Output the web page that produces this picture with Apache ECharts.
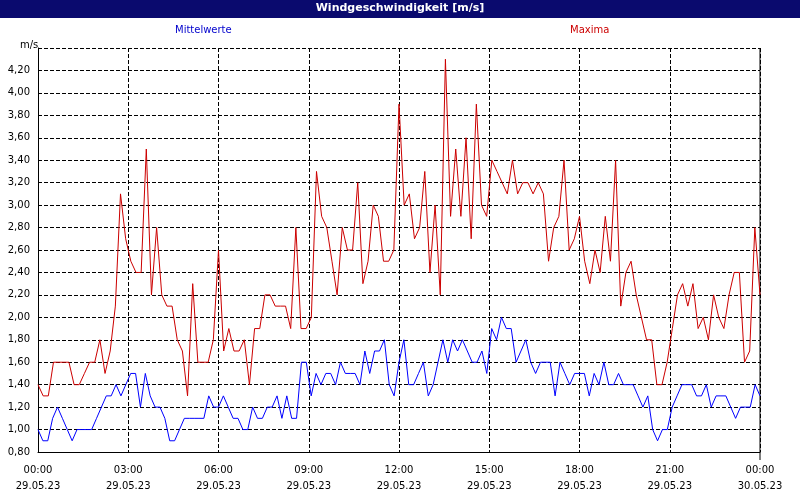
<!DOCTYPE html><html><head><meta charset="utf-8"><script src="https://cdn.jsdelivr.net/npm/echarts@6/dist/echarts.min.js"></script>
<style>body{margin:0;background:#fff}#c{width:800px;height:500px}</style></head><body><div id="c"></div><script>
const mittelwerte=[1.0,0.9,0.9,1.1,1.2,1.1,1.0,0.9,1.0,1.0,1.0,1.0,1.1,1.2,1.3,1.3,1.4,1.3,1.4,1.5,1.5,1.2,1.5,1.3,1.2,1.2,1.1,0.9,0.9,1.0,1.1,1.1,1.1,1.1,1.1,1.3,1.2,1.2,1.3,1.2,1.1,1.1,1.0,1.0,1.2,1.1,1.1,1.2,1.2,1.3,1.1,1.3,1.1,1.1,1.6,1.6,1.3,1.5,1.4,1.5,1.5,1.4,1.6,1.5,1.5,1.5,1.4,1.7,1.5,1.7,1.7,1.8,1.4,1.3,1.6,1.8,1.4,1.4,1.5,1.6,1.3,1.4,1.6,1.8,1.6,1.8,1.7,1.8,1.7,1.6,1.6,1.7,1.5,1.9,1.8,2.0,1.9,1.9,1.6,1.7,1.8,1.6,1.5,1.6,1.6,1.6,1.3,1.6,1.5,1.4,1.5,1.5,1.5,1.3,1.5,1.4,1.6,1.4,1.4,1.5,1.4,1.4,1.4,1.3,1.2,1.3,1.0,0.9,1.0,1.0,1.2,1.3,1.4,1.4,1.4,1.3,1.3,1.4,1.2,1.3,1.3,1.3,1.2,1.1,1.2,1.2,1.2,1.4,1.3];
const maxima=[1.4,1.3,1.3,1.6,1.6,1.6,1.6,1.4,1.4,1.5,1.6,1.6,1.8,1.5,1.7,2.1,3.1,2.7,2.5,2.4,2.4,3.5,2.2,2.8,2.2,2.1,2.1,1.8,1.7,1.3,2.3,1.6,1.6,1.6,1.8,2.6,1.7,1.9,1.7,1.7,1.8,1.4,1.9,1.9,2.2,2.2,2.1,2.1,2.1,1.9,2.8,1.9,1.9,2.0,3.3,2.9,2.8,2.5,2.2,2.8,2.6,2.6,3.2,2.3,2.5,3.0,2.9,2.5,2.5,2.6,3.9,3.0,3.1,2.7,2.8,3.3,2.4,3.0,2.2,4.3,2.9,3.5,2.9,3.6,2.7,3.9,3.0,2.9,3.4,3.3,3.2,3.1,3.4,3.1,3.2,3.2,3.1,3.2,3.1,2.5,2.8,2.9,3.4,2.6,2.7,2.9,2.5,2.3,2.6,2.4,2.9,2.5,3.4,2.1,2.4,2.5,2.2,2.0,1.8,1.8,1.4,1.4,1.6,1.9,2.2,2.3,2.1,2.3,1.9,2.0,1.8,2.2,2.0,1.9,2.2,2.4,2.4,1.6,1.7,2.8,2.2];
const toPts=a=>a.map((v,i)=>[i*1440/(a.length-1),v]);
const c=echarts.init(document.getElementById('c'));
const f='Verdana, DejaVu Sans, sans-serif';
c.setOption({animation:false,backgroundColor:'#fff',
graphic:[{type:'rect',shape:{x:0,y:0,width:800,height:18},style:{fill:'#0a0a6e'}},
{type:'text',left:'center',top:3,style:{text:'Windgeschwindigkeit [m/s]',fill:'#fff',font:'bold 11px '+f}},
{type:'text',left:175,top:25,style:{text:'Mittelwerte',fill:'#0000cc',font:'10px '+f}},
{type:'text',left:570,top:25,style:{text:'Maxima',fill:'#cc0000',font:'10px '+f}},
{type:'text',left:20,top:40,style:{text:'m/s',fill:'#000',font:'10px '+f}},
{type:'line',shape:{x1:760,y1:48,x2:760,y2:460},style:{stroke:'#000'}}],
grid:{left:38,right:40,top:48,bottom:48},
xAxis:{type:'value',min:0,max:1440,interval:180,axisLine:{lineStyle:{color:'#000'}},axisTick:{show:false},
 splitLine:{lineStyle:{type:'dashed',color:'#000'}},
 axisLabel:{fontFamily:f,fontSize:10,color:'#000',lineHeight:16,margin:10,formatter:v=>{const h=Math.floor(v/60)%24;return String(h).padStart(2,'0')+':00\n'+(v>=1440?'30.05.23':'29.05.23');}}},
yAxis:{type:'value',min:0.8,max:4.4,interval:0.2,axisLine:{show:true,lineStyle:{color:'#000'}},axisTick:{show:false},
 splitLine:{lineStyle:{type:'dashed',color:'#000'}},
 axisLabel:{fontFamily:f,fontSize:10,color:'#000',formatter:v=>v>4.3?'':v.toFixed(2).replace('.',',')}},
series:[{type:'line',data:toPts(mittelwerte),symbol:'none',lineStyle:{color:'#0000ff',width:1}},
{type:'line',data:toPts(maxima),symbol:'none',lineStyle:{color:'#cc0000',width:1}}]});
</script></body></html>
